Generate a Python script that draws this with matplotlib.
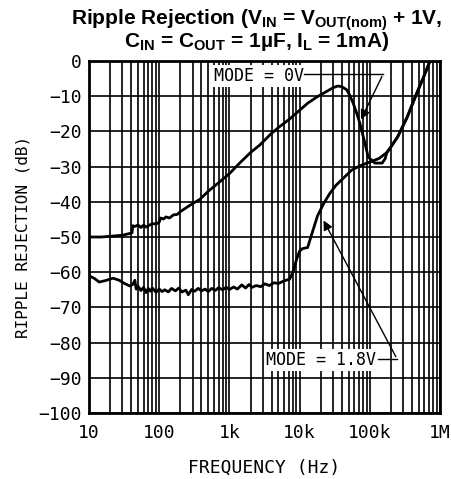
import numpy as np
import matplotlib
matplotlib.use('Agg')
import matplotlib.pyplot as plt
from matplotlib.ticker import FixedLocator, NullFormatter

plt.rcParams['font.family'] = 'DejaVu Sans Mono'
plt.rcParams['mathtext.fontset'] = 'custom'
plt.rcParams['mathtext.rm'] = 'Liberation Sans:bold'
plt.rcParams['mathtext.bf'] = 'Liberation Sans:bold'
plt.rcParams['mathtext.it'] = 'Liberation Sans:bold'
plt.rcParams['mathtext.default'] = 'bf'

# MODE = 0V curve
freq_0v = [10, 15, 20, 30, 38, 41, 42, 45, 50, 55, 60, 65, 70, 80, 90, 100, 105, 115, 125,
           140, 160, 180, 200, 250, 300, 380, 500, 730, 1000, 1400, 2000, 2700, 4000, 5300,
           7200, 10000, 13000, 17700, 25000, 30000, 35000, 40000, 47000, 52000, 58000,
           65000, 72000, 85000, 95000, 118000, 150000, 165000, 175000]
rr_0v = [-50.0, -50.0, -49.8, -49.5, -49.0, -48.8, -46.8, -47.0, -46.6, -47.3, -46.6, -47.2,
         -46.8, -46.2, -46.3, -45.8, -44.6, -44.9, -44.3, -44.6, -43.7, -43.6, -42.8, -41.5,
         -40.5, -39.3, -37.0, -34.3, -32.0, -29.0, -26.0, -23.9, -20.5, -18.5, -16.5, -14.0,
         -12.0, -10.2, -8.5, -7.6, -7.1, -7.3, -8.2, -9.8, -12.0, -14.8, -17.6, -23.3, -27.3,
         -29.0, -29.0, -27.8, -26.0]

# MODE = 1.8V curve
freq_18v = [10, 12, 14, 17, 22, 27, 32, 38, 42, 45, 47, 50, 55, 60, 65, 70, 75, 80, 90, 100,
            110, 120, 135, 150, 170, 190, 210, 240, 260, 290, 320, 360, 400, 450, 500, 560,
            630, 700, 800, 900, 1000, 1150, 1300, 1500, 1700, 1900, 2100, 2400, 2800, 3200,
            3700, 4300, 5000, 5800, 6600, 7200, 7800, 8200, 9000, 10000, 11000, 13000, 15000,
            18000, 22000, 27000, 33000, 42000, 55000, 72000, 100000, 135000, 175000]
rr_18v = [-61.0, -61.8, -62.8, -62.4, -61.7, -62.3, -63.2, -63.9, -63.5, -62.3, -64.8, -64.0,
          -65.2, -64.3, -65.8, -64.6, -65.4, -64.5, -65.7, -64.8, -65.5, -65.0, -65.6, -64.6,
          -65.3, -64.5, -65.6, -65.1, -66.4, -64.9, -65.4, -64.6, -65.3, -64.8, -65.5, -64.6,
          -65.2, -64.4, -65.0, -64.3, -64.9, -64.2, -64.8, -63.6, -64.5, -63.5, -64.3, -63.8,
          -64.1, -63.3, -63.8, -63.0, -63.2, -62.6, -62.2, -62.0, -60.5, -59.4, -56.5, -54.0,
          -53.3, -53.0, -49.0, -44.0, -40.5, -37.6, -35.3, -33.3, -31.0, -29.8, -28.7, -27.7,
          -26.0]

# shared high-frequency tail
freq_tail = [200000, 250000, 340000, 470000, 600000, 720000, 1000000]
rr_tail = [-24.4, -21.5, -16.0, -9.0, -4.0, 0.0, 0.0]

x_ticks = [10, 100, 1e3, 1e4, 1e5, 1e6]
x_labels = ['10', '100', '1k', '10k', '100k', '1M']
y_ticks = list(range(-100, 1, 10))
y_labels = ['\u2212' + str(-v) if v < 0 else '0' for v in y_ticks]

fig = plt.figure(figsize=(4.52, 4.79), dpi=100)
ax = fig.add_axes([89 / 452, 1 - 413 / 479, 351 / 452, 352 / 479])

ax.plot(freq_0v + freq_tail, rr_0v + rr_tail, color='black', lw=2, zorder=4)
ax.plot(freq_18v + freq_tail, rr_18v + rr_tail, color='black', lw=2, zorder=4)

ax.set_xscale('log')
ax.set_xlim(10, 1e6)
ax.set_ylim(-100, 0)
ax.xaxis.set_major_locator(FixedLocator(x_ticks))
ax.set_xticklabels(x_labels)
minors = [m * d for d in [10, 100, 1e3, 1e4, 1e5] for m in range(2, 10)]
ax.xaxis.set_minor_locator(FixedLocator(minors))
ax.xaxis.set_minor_formatter(NullFormatter())
ax.set_yticks(y_ticks)
ax.set_yticklabels(y_labels)
ax.grid(True, which='both', color='black', lw=1.2)
ax.tick_params(which='both', length=0, labelsize=13)
ax.tick_params(axis='x', pad=8)
ax.tick_params(axis='y', pad=5)
for s in ax.spines.values():
    s.set_linewidth(2)

ax.set_xlabel('FREQUENCY (Hz)', fontsize=13, labelpad=12)
ax.set_ylabel('RIPPLE REJECTION (dB)', fontsize=11.5, labelpad=6)

fig.text(257 / 452, 0.985,
         'Ripple Rejection (V$_{IN}$ = V$_{OUT(nom)}$ + 1V,\nC$_{IN}$ = C$_{OUT}$ = 1\u00b5F, I$_{L}$ = 1mA)',
         ha='center', va='top', fontsize=15, fontweight='bold',
         family='Liberation Sans', linespacing=0.82)

box = dict(facecolor='white', edgecolor='none', pad=1.5)
ax.text(2600, -4.3, 'MODE = 0V', ha='center', va='center', fontsize=12, bbox=box, zorder=5)
ax.plot([11500, 155000], [-3.7, -3.7], color='black', lw=1, zorder=5)
ax.annotate('', xy=(72000, -17.3), xytext=(155000, -3.7),
            arrowprops=dict(arrowstyle='-|>', color='black', lw=1, mutation_scale=14), zorder=5)

ax.text(20000, -85, 'MODE = 1.8V', ha='center', va='center', fontsize=12, bbox=box, zorder=5)
ax.plot([132000, 245000], [-84.7, -84.7], color='black', lw=1, zorder=5)
ax.annotate('', xy=(21000, -44.6), xytext=(245000, -84.7),
            arrowprops=dict(arrowstyle='-|>', color='black', lw=1, mutation_scale=14), zorder=5)

fig.savefig('out.png', dpi=100)
